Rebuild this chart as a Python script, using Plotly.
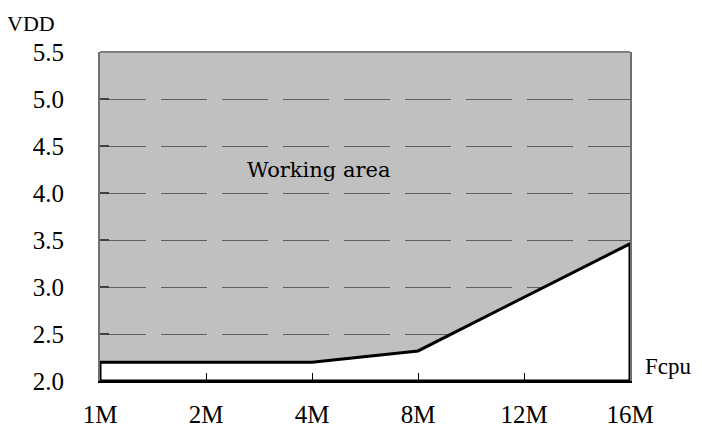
import plotly.graph_objects as go

# Data
freq_labels = ["1M", "2M", "4M", "8M", "12M", "16M"]
boundary_vdd = [2.2, 2.2, 2.2, 2.32, 2.89, 3.46]   # minimum VDD at each frequency
vdd_ticks = [2.0, 2.5, 3.0, 3.5, 4.0, 4.5, 5.0, 5.5]
vdd_min, vdd_max = 2.0, 5.5
area_label = "Working area"

idx = list(range(len(freq_labels)))
last = idx[-1]

font_family = "Liberation Serif"
label_family = "DejaVu Serif"

fig = go.Figure()

# White (non-working) region below the boundary, with black outline
poly_x = [idx[0]] + idx + [last, idx[0]]
poly_y = [vdd_min] + boundary_vdd + [vdd_min, vdd_min]
fig.add_trace(go.Scatter(
    x=poly_x, y=poly_y, mode="lines", fill="toself",
    fillcolor="white", line=dict(color="black", width=3),
    hoverinfo="skip", showlegend=False, cliponaxis=False,
))

fig.update_layout(
    width=702, height=434,
    margin=dict(l=92, r=80, t=44, b=61),
    paper_bgcolor="white",
    plot_bgcolor="#c0c0c0",
    showlegend=False,
    font=dict(family=font_family, color="black", size=25),
    xaxis=dict(
        range=[idx[0], last], tickvals=idx, ticktext=freq_labels,
        showgrid=False, zeroline=False,
        showline=True, linecolor="black", linewidth=2, mirror=False,
        ticks="inside", ticklen=8, tickwidth=1, tickcolor="black",
        tickfont=dict(size=25, family=font_family),
        ticklabelstandoff=10,
    ),
    yaxis=dict(
        range=[vdd_min, vdd_max], tickvals=vdd_ticks,
        tickformat=".1f",
        showgrid=True, gridcolor="#606060", gridwidth=1.3, griddash="46px,15px",
        zeroline=False,
        showline=True, linecolor="#707070", linewidth=2, mirror=True,
        ticks="inside", ticklen=9, tickwidth=2, tickcolor="#404040",
        tickfont=dict(size=25, family=font_family),
        ticklabelstandoff=29,
    ),
    shapes=[dict(type="line", xref="x domain", yref="y domain",
                 x0=0, x1=1, y0=1, y1=1,
                 line=dict(color="#808080", width=2))],
    annotations=[
        dict(text="VDD", xref="paper", yref="paper", x=-0.130, y=1.088,
             xanchor="center", yanchor="middle", showarrow=False,
             font=dict(size=22, family=font_family)),
        dict(text="Fcpu", xref="paper", yref="paper", x=1.024, y=0.045,
             xanchor="left", yanchor="middle", showarrow=False,
             font=dict(size=23, family=font_family)),
        dict(text=area_label, xref="x", yref="y", x=2.06, y=4.25,
             xanchor="center", yanchor="middle", showarrow=False,
             font=dict(size=21, family=label_family)),
    ],
)

fig.write_html("out.html")
